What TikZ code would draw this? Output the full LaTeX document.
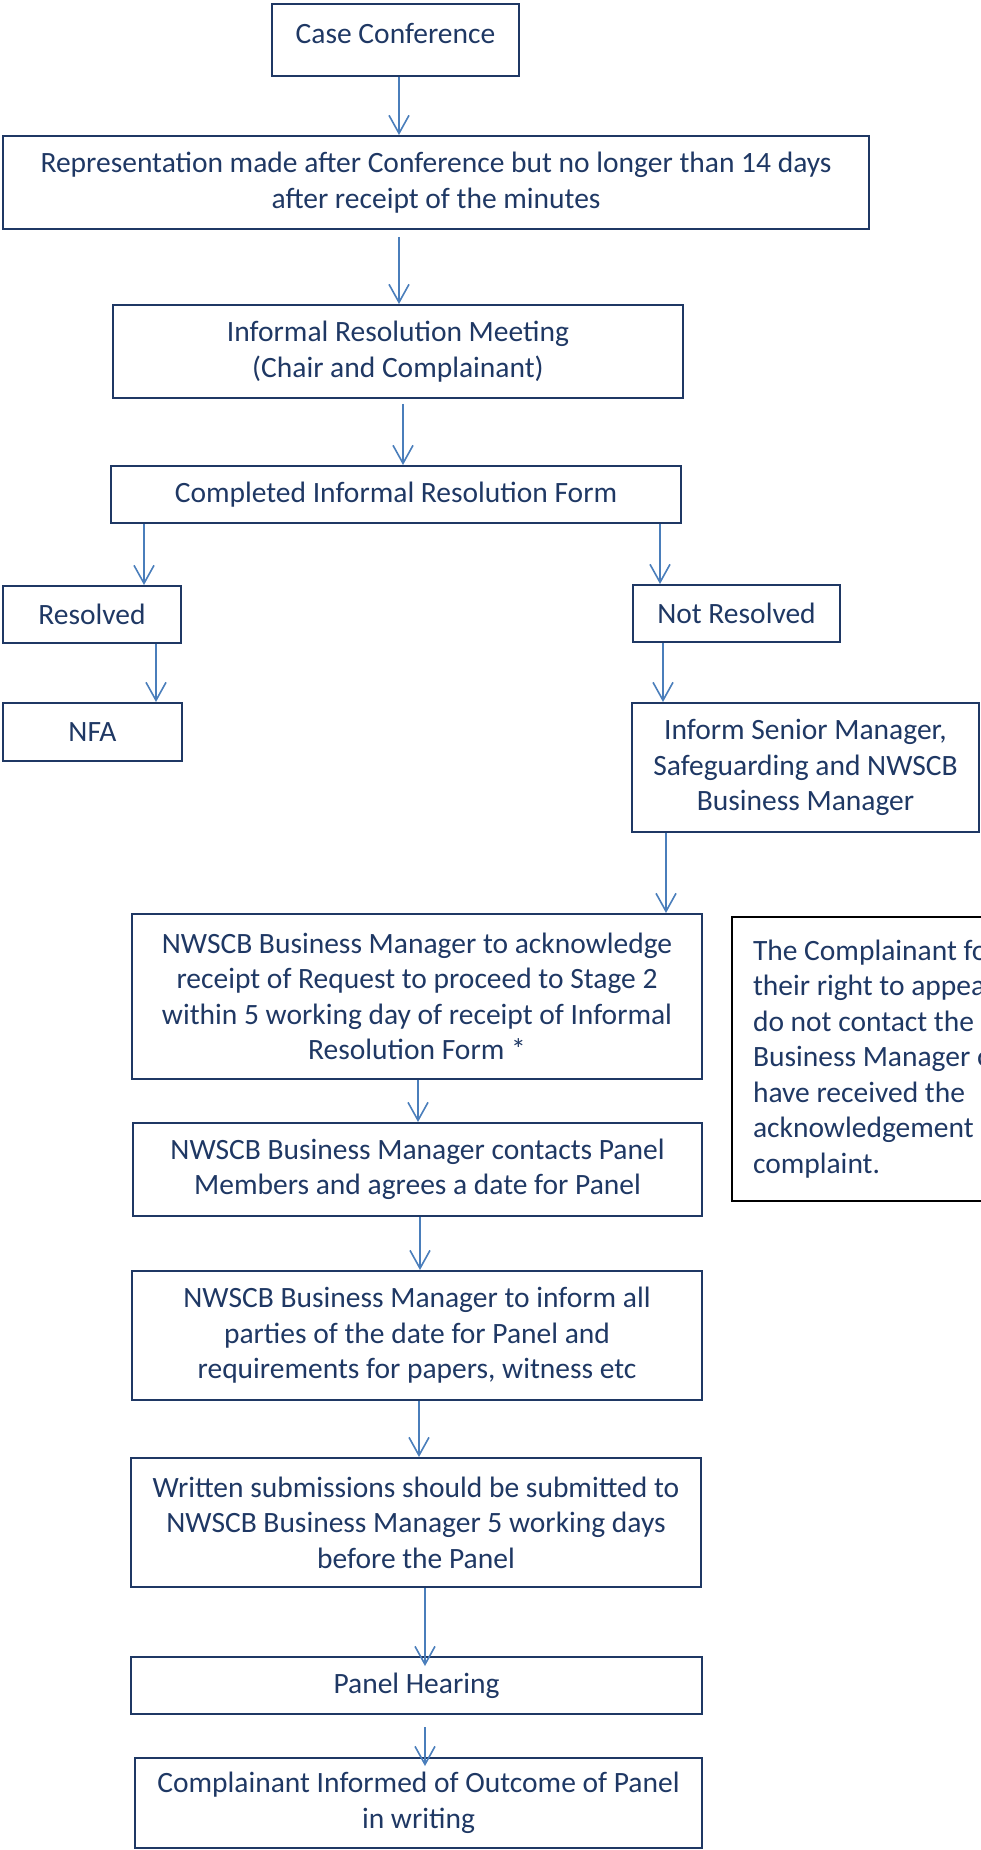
\documentclass[tikz,border=0pt]{standalone}
\usepackage{fontspec}
\setmainfont{Carlito}
\usetikzlibrary{arrows.meta}
\definecolor{navy}{HTML}{1F3864}
\definecolor{flowblue}{HTML}{4A7EBB}

\begin{document}
\begin{tikzpicture}[x=0.5pt,y=-0.5pt]
\tikzstyle{every node}=[font=\fontsize{14.75}{17.75}\selectfont,text=navy,inner sep=0pt,align=center]
\tikzstyle{box}=[draw=navy,line width=1pt]
\tikzstyle{flow}=[draw=flowblue,line width=0.8pt,-{Straight Barb[length=9pt,width=10pt]}]

\useasboundingbox (0,0) rectangle (980,1850);

\node[box,minimum width=123.5pt,minimum height=36pt,text depth=7pt] (case) at (395.5,40) {Case Conference};
\node[box,minimum width=433pt,minimum height=46.5pt] (repr) at (436,182.5)
{Representation made after Conference but no longer than 14 days\\after receipt of the minutes};
\node[box,minimum width=285pt,minimum height=46.5pt] (meet) at (398,351.5)
{Informal Resolution Meeting\\(Chair and Complainant)};
\node[box,minimum width=285pt,minimum height=28.5pt] (form) at (396,494.5) {Completed Informal Resolution Form};
\node[box,minimum width=89pt,minimum height=28.5pt] (res) at (92,614.5) {Resolved};
\node[box,minimum width=89.5pt,minimum height=29pt] (nfa) at (92.5,732) {NFA};
\node[box,minimum width=103.5pt,minimum height=28.5pt] (notres) at (736.5,613.5) {Not Resolved};
\node[box,minimum width=173.5pt,minimum height=64.5pt] (senior) at (805.5,767.5)
{Inform Senior Manager,\\Safeguarding and NWSCB\\Business Manager};
\node[box,minimum width=285pt,minimum height=82.5pt] (ack) at (417,996.5)
{NWSCB Business Manager to acknowledge\\receipt of Request to proceed to Stage 2\\within 5 working day of receipt of Informal\\Resolution Form *};
% note beside the stage 2 boxes, runs off the page
\node[draw=black,line width=1pt,anchor=north west,align=flush left,text width=200pt,inner xsep=10.5pt,minimum height=142pt] (note) at (731,916)
{The Complainant fo\\their right to appea\\do not contact the\\Business Manager o\\have received the\\acknowledgement o\\complaint.};
\node[box,minimum width=284.5pt,minimum height=46.5pt] (contacts) at (417.5,1169.5)
{NWSCB Business Manager contacts Panel\\Members and agrees a date for Panel};
\node[box,minimum width=285pt,minimum height=64.5pt] (parties) at (417,1335.5)
{NWSCB Business Manager to inform all\\parties of the date for Panel and\\requirements for papers, witness etc};
\node[box,minimum width=285pt,minimum height=64.5pt] (written) at (416,1522.5)
{Written submissions should be submitted to\\NWSCB Business Manager 5 working days\\before the Panel};
\node[box,minimum width=285.5pt,minimum height=28.5pt] (panel) at (416.5,1685.5) {Panel Hearing};
\node[box,minimum width=283.5pt,minimum height=45pt] (outcome) at (418.5,1803)
{Complainant Informed of Outcome of Panel\\in writing};

\draw[flow] (case.south -| 399,0) -- (repr.north -| 399,0);
\draw[flow,shorten <=3.5pt] (repr.south -| 399,0) -- (meet.north -| 399,0);
\draw[flow,shorten <=2.5pt] (meet.south -| 403,0) -- (form.north -| 403,0);
\draw[flow] (form.south -| 144,0) -- (res.north -| 144,0);
\draw[flow] (res.south -| 156,0) -- (nfa.north -| 156,0);
\draw[flow] (form.south -| 660,0) -- (notres.north -| 660,0);
\draw[flow] (notres.south -| 663,0) -- (senior.north -| 663,0);
\draw[flow] (senior.south -| 666,0) -- (ack.north -| 666,0);
\draw[flow] (ack.south -| 418,0) -- (contacts.north -| 418,0);
\draw[flow] (contacts.south -| 420,0) -- (parties.north -| 420,0);
\draw[flow] (parties.south -| 419,0) -- (written.north -| 419,0);
\draw[flow,shorten >=-5pt] (written.south -| 425,0) -- (panel.north -| 425,0);
\draw[flow,shorten <=6pt,shorten >=-4.5pt] (panel.south -| 425,0) -- (outcome.north -| 425,0);
\end{tikzpicture}
\end{document}
